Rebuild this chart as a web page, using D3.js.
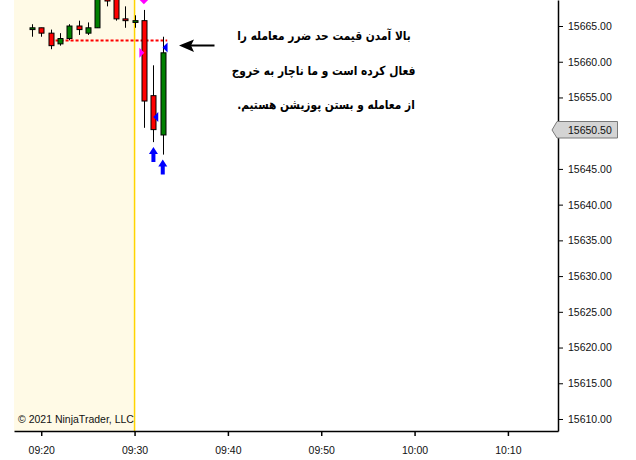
<!DOCTYPE html>
<html>
<head>
<meta charset="utf-8">
<script src="https://cdn.jsdelivr.net/npm/d3@7"></script>
<style>
  html, body { margin: 0; padding: 0; background: #ffffff; }
  svg { display: block; }
</style>
</head>
<body>
<svg id="chart" width="636" height="460"></svg>
<script>
// ---- data ----
const times  = ["09:19","09:20","09:21","09:22","09:23","09:24","09:25","09:26","09:27","09:28","09:29","09:30","09:31","09:32","09:33"];
const opens  = [15664.50,15664.75,15664.00,15662.50,15663.25,15665.00,15664.00,15664.75,15670.00,15669.50,15666.00,15665.50,15665.75,15655.25,15649.75];
const highs  = [15665.25,15664.75,15664.50,15664.00,15665.25,15665.75,15665.50,15670.25,15671.00,15670.00,15667.75,15666.50,15667.25,15659.50,15663.50];
const lows   = [15663.50,15663.50,15661.75,15662.25,15663.00,15663.75,15663.75,15664.75,15667.75,15665.75,15664.75,15664.75,15650.75,15648.75,15647.00];
const closes = [15664.75,15664.00,15662.25,15663.25,15665.00,15664.50,15664.75,15670.00,15668.50,15666.00,15665.75,15665.75,15654.50,15650.50,15661.25];

const yTickValues = [15610,15615,15620,15625,15630,15635,15640,15645,15650,15655,15660,15665];
const xTickLabels = ["09:20","09:30","09:40","09:50","10:00","10:10"];
const lastPrice = 15650.50;
const stopPrice = 15663.00;
const stopStart = "09:21";
const stopEnd = "09:33:30";
const sessionStart = "09:30";
const xDomain = ["09:17:05","10:15:22"];
const yDomain = [15608.32, 15668.64];

// markers
const sellDiamondTimes = ["09:31"];   const sellDiamondPrices = [15668.75];
const sellEntryTimes = ["09:31"];     const sellEntryPrices = [15661.25];
const exitTimes = ["09:32","09:33"];  const exitPrices = [15652.25, 15662.00];
const arrowTimes = ["09:32","09:33"]; const arrowPrices = [15648.75, 15647.00];

const noteLines = [
  "بالا آمدن قیمت حد ضرر معامله را",
  "فعال کرده است و ما ناچار به خروج",
  "از معامله و بستن پوزیشن هستیم."
];
const copyright = "© 2021 NinjaTrader, LLC";

// ---- setup ----
const parseT = s => {
  const p = s.split(":").map(Number);
  return new Date(2021, 0, 4, p[0], p[1], p[2] || 0);
};
const svg = d3.select("#chart");
const L = 14, R = 558, T = 0, B = 431;
const x = d3.scaleTime().domain(xDomain.map(parseT)).range([L, R]);
const y = d3.scaleLinear().domain(yDomain).range([B, T]);

const bars = times.map((t, i) => ({ t: parseT(t), o: opens[i], h: highs[i], l: lows[i], c: closes[i] }));

svg.append("defs").append("clipPath").attr("id", "plotclip")
  .append("rect").attr("x", L).attr("y", T).attr("width", R - L).attr("height", B - T);

// pre-session background
svg.append("rect")
  .attr("x", L).attr("y", T)
  .attr("width", x(parseT(sessionStart)) - L).attr("height", B - T)
  .attr("fill", "#fffae6");

const plot = svg.append("g").attr("clip-path", "url(#plotclip)");

// session line
plot.append("line")
  .attr("x1", x(parseT(sessionStart))).attr("x2", x(parseT(sessionStart)))
  .attr("y1", T).attr("y2", B)
  .attr("stroke", "#ffd400").attr("stroke-width", 1.5);

// stop line
plot.append("line")
  .attr("x1", x(parseT(stopStart))).attr("x2", x(parseT(stopEnd)))
  .attr("y1", Math.round(y(stopPrice)) + 0.5).attr("y2", Math.round(y(stopPrice)) + 0.5)
  .attr("stroke", "#ff0000").attr("stroke-width", 2).attr("stroke-dasharray", "3,2");

// candles
const cg = plot.append("g");
bars.forEach(d => {
  const cx = Math.round(x(d.t)) + 0.5;
  cg.append("line")
    .attr("x1", cx).attr("x2", cx)
    .attr("y1", y(d.h)).attr("y2", y(d.l))
    .attr("stroke", "#000").attr("stroke-width", 1);
  const top = y(Math.max(d.o, d.c)), bot = y(Math.min(d.o, d.c));
  cg.append("rect")
    .attr("x", cx - 2.5).attr("width", 5)
    .attr("y", top).attr("height", Math.max(1, bot - top))
    .attr("fill", d.c >= d.o ? "#008000" : "#ff0000")
    .attr("stroke", "#000").attr("stroke-width", 1);
});

// markers
const mg = plot.append("g");
sellDiamondTimes.forEach((t, i) => {
  const cx = x(parseT(t)), cy = y(sellDiamondPrices[i]);
  mg.append("path")
    .attr("d", `M${cx-5},${cy} L${cx},${cy-5} L${cx+5},${cy} L${cx},${cy+5} Z`)
    .attr("fill", "#ff00ff");
});
sellEntryTimes.forEach((t, i) => {
  const cx = x(parseT(t)), cy = y(sellEntryPrices[i]);
  mg.append("path")
    .attr("d", `M${cx-4.5},${cy-5} L${cx+0.5},${cy} L${cx-4.5},${cy+5} Z`)
    .attr("fill", "#ff00ff");
});
exitTimes.forEach((t, i) => {
  const cx = x(parseT(t)), cy = y(exitPrices[i]);
  mg.append("path")
    .attr("d", `M${cx},${cy} L${cx+5},${cy-5} L${cx+5},${cy+5} Z`)
    .attr("fill", "#0000ff");
});
arrowTimes.forEach((t, i) => {
  const cx = x(parseT(t)) + 0.2, ty = y(arrowPrices[i]) + 5;
  mg.append("path")
    .attr("d", `M${cx},${ty} L${cx+4.5},${ty+7} L${cx+2},${ty+7} L${cx+2},${ty+15} L${cx-2},${ty+15} L${cx-2},${ty+7} L${cx-4.5},${ty+7} Z`)
    .attr("fill", "#0000ff");
});

// annotation arrow
svg.append("path")
  .attr("d", "M179,45.5 L194,39.5 L191,45.5 L194,52 Z")
  .attr("fill", "#000");
svg.append("line")
  .attr("x1", 190).attr("x2", 214.5).attr("y1", 45.5).attr("y2", 45.5)
  .attr("stroke", "#000").attr("stroke-width", 2);

// note text
const noteBaselines = [40, 74.5, 109];
const noteCenters = [324, 323.5, 326];
noteLines.forEach((s, i) => {
  svg.append("text")
    .attr("transform", `translate(${noteCenters[i]},${noteBaselines[i]}) scale(0.85,1)`)
    .attr("text-anchor", "middle")
    .attr("direction", "rtl")
    .style("font-family", "'DejaVu Sans', 'Liberation Sans', sans-serif")
    .style("font-weight", "bold")
    .style("font-size", "12.5px")
    .attr("fill", "#000")
    .text(s);
});

// copyright
svg.append("text")
  .attr("x", 18).attr("y", 422.5)
  .style("font-family", "'Liberation Sans', Arial, sans-serif")
  .style("font-size", "10.5px")
  .attr("fill", "#111")
  .text(copyright);

// axes
const xAxis = d3.axisBottom(x)
  .tickValues(xTickLabels.map(parseT))
  .tickFormat(d3.timeFormat("%H:%M"))
  .tickSize(5).tickSizeOuter(0);
const gx = svg.append("g").attr("transform", `translate(0,${B})`).call(xAxis);
gx.select(".domain").attr("stroke", "#000").attr("stroke-width", 1.5);
gx.selectAll(".tick line").attr("stroke", "#000").attr("stroke-width", 1.5);
gx.selectAll(".tick text")
  .attr("y", 22.5).attr("dy", 0)
  .style("font-family", "'Liberation Sans', Arial, sans-serif")
  .style("font-size", "10.5px").attr("fill", "#111");

const py = Math.round(y(lastPrice));
const yAxis = d3.axisRight(y)
  .tickValues(yTickValues)
  .tickFormat(d3.format(".2f"))
  .tickSize(5).tickSizeOuter(0);
const gy = svg.append("g").attr("transform", `translate(${R},0)`).call(yAxis);
gy.select(".domain").attr("stroke", "#000").attr("stroke-width", 1.5);
gy.selectAll(".tick line").attr("stroke", "#000");
gy.selectAll(".tick text")
  .attr("x", 10)
  .style("font-family", "'Liberation Sans', Arial, sans-serif")
  .style("font-size", "10.5px").attr("fill", "#111");
// the last-price flag hides the tick label underneath it
gy.selectAll(".tick").filter(d => Math.abs(y(d) - py) < 12).select("text").remove();

// last price marker
svg.append("path")
  .attr("d", `M552,${py} L557,${py-8.5} L617.5,${py-8.5} L617.5,${py+8} L557,${py+8} Z`)
  .attr("fill", "#d4d4d4").attr("stroke", "#7a7a7a").attr("stroke-width", 1);
svg.append("text")
  .attr("x", 568).attr("y", py).attr("dy", "0.35em")
  .style("font-family", "'Liberation Sans', Arial, sans-serif")
  .style("font-size", "10.5px").attr("fill", "#111")
  .text(d3.format(".2f")(lastPrice));
</script>
</body>
</html>
